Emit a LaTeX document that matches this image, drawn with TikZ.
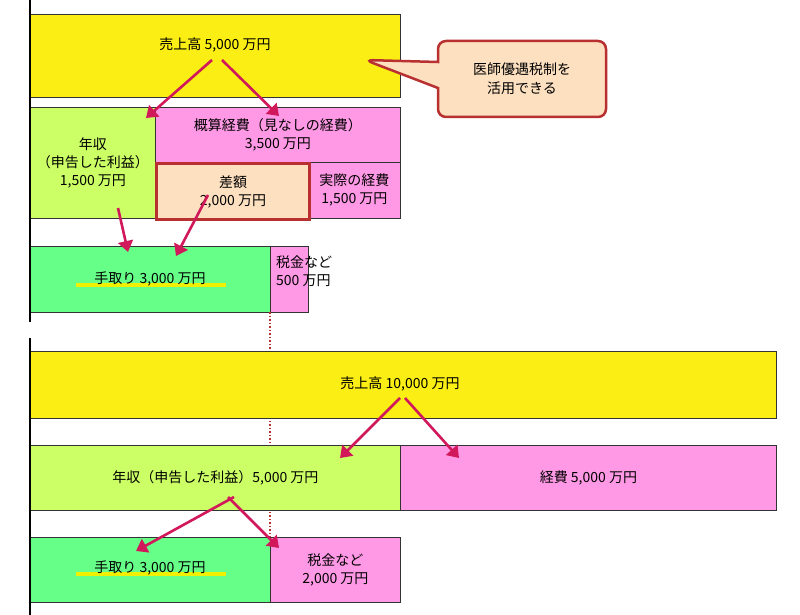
\documentclass[tikz,border=0pt]{standalone}
\usepackage{fontspec}
\setmainfont{Noto Sans CJK JP}
\usetikzlibrary{arrows.meta,shapes.callouts}
\definecolor{yel}{HTML}{FAEE14}
\definecolor{lgr}{HTML}{CCFF66}
\definecolor{gr}{HTML}{66FF88}
\definecolor{pk}{HTML}{FF99E6}
\definecolor{pch}{HTML}{FDE0C0}
\definecolor{dred}{HTML}{B83030}
\definecolor{arr}{HTML}{D0185A}
\definecolor{hl}{HTML}{F0F000}
\tikzset{
 box/.style={draw=black!80, line width=0.8pt, inner sep=0pt, align=center, font=\fontsize{14}{18}\selectfont, anchor=north west},
 lbl/.style={inner sep=0pt, align=center, font=\fontsize{14}{18}\selectfont},
 arw/.style={draw=arr, line width=2.6pt, -{Triangle[length=11pt,width=15pt]}},
 hlbar/.style={fill=hl, line width=0pt}
}
\begin{document}
\begin{tikzpicture}[x=1pt,y=-1pt]
\useasboundingbox[fill=white] (0,0) rectangle (800,615);
% top
\node[box,fill=yel,minimum width=370,minimum height=83] (y1) at (30,14) {};
\node[lbl] (y1t) at (215,45) {売上高 5,000 万円};
\node[box,fill=lgr,minimum width=125,minimum height=111] (n1) at (30,107) {年収\\（申告した利益）\\1,500 万円};
\node[box,fill=pk,minimum width=245,minimum height=55] (k1) at (155,107) {概算経費（見なしの経費）\\3,500 万円};
\node[box,fill=pk,minimum width=92,minimum height=56] (j1) at (308,162) {実際の経費\\1,500 万円};
\node[box,draw=dred,line width=3pt,fill=pch,minimum width=153,minimum height=56] (s1) at (155,162) {差額\\2,000 万円};
\node[box,fill=gr,minimum width=240,minimum height=66] (t1) at (30,246) {};
\fill[hlbar] (76,283) rectangle (226,287);
\node[lbl] (t1t) at (150,279) {手取り 3,000 万円};
\node[box,fill=pk,minimum width=38,minimum height=66] (z1) at (270,246) {};
\node[lbl,align=left,anchor=north west] (z1t) at (276,256) {税金など\\500 万円};
\node[rectangle callout,rounded corners=8pt,draw=dred,line width=2.5pt,fill=pch,minimum width=168,minimum height=76,align=center,font=\fontsize{14}{19}\selectfont,callout absolute pointer={(365,60)},callout pointer width=26pt] (c1) at (522,79) {医師優遇税制を\\活用できる};
\draw[line width=1.5pt] (30,0) -- (30,322);
\draw[dred,line width=1.5pt,dotted] (270,312) -- (270,540);
\coordinate (a1) at (212,60); \coordinate (a2) at (222,60);
\coordinate (a3) at (118,208); \coordinate (a4) at (208,195);
\coordinate (b1) at (146,118); \coordinate (b2) at (279,116);
\coordinate (b3) at (128,252); \coordinate (b4) at (176,256);
\draw[arw] (a1) -- (b1); \draw[arw] (a2) -- (b2);
\draw[arw] (a3) -- (b3); \draw[arw] (a4) -- (b4);
% bottom
\node[box,fill=yel,minimum width=746,minimum height=67] (y2) at (30,351) {};
\node[lbl] (y2t) at (400,384) {売上高 10,000 万円};
\node[box,fill=lgr,minimum width=370,minimum height=65] (n2) at (30,445) {年収（申告した利益）5,000 万円};
\node[box,fill=pk,minimum width=376,minimum height=65] (k2) at (400,445) {経費 5,000 万円};
\node[box,fill=gr,minimum width=240,minimum height=65] (t2) at (30,537) {};
\fill[hlbar] (76,572) rectangle (226,576);
\node[lbl] (t2t) at (150,568) {手取り 3,000 万円};
\node[box,fill=pk,minimum width=130,minimum height=65] (z2) at (270,537) {税金など\\2,000 万円};
\draw[line width=1.5pt] (30,338) -- (30,615);
\coordinate (c3) at (400,398); \coordinate (c4) at (405,398);
\coordinate (c5) at (234,497); \coordinate (c6) at (228,497);
\coordinate (d3) at (340,458); \coordinate (d4) at (459,458);
\coordinate (d5) at (136,551); \coordinate (d6) at (279,548);
\draw[arw] (c3) -- (d3); \draw[arw] (c4) -- (d4);
\draw[arw] (c5) -- (d5); \draw[arw] (c6) -- (d6);
\end{tikzpicture}
\end{document}
